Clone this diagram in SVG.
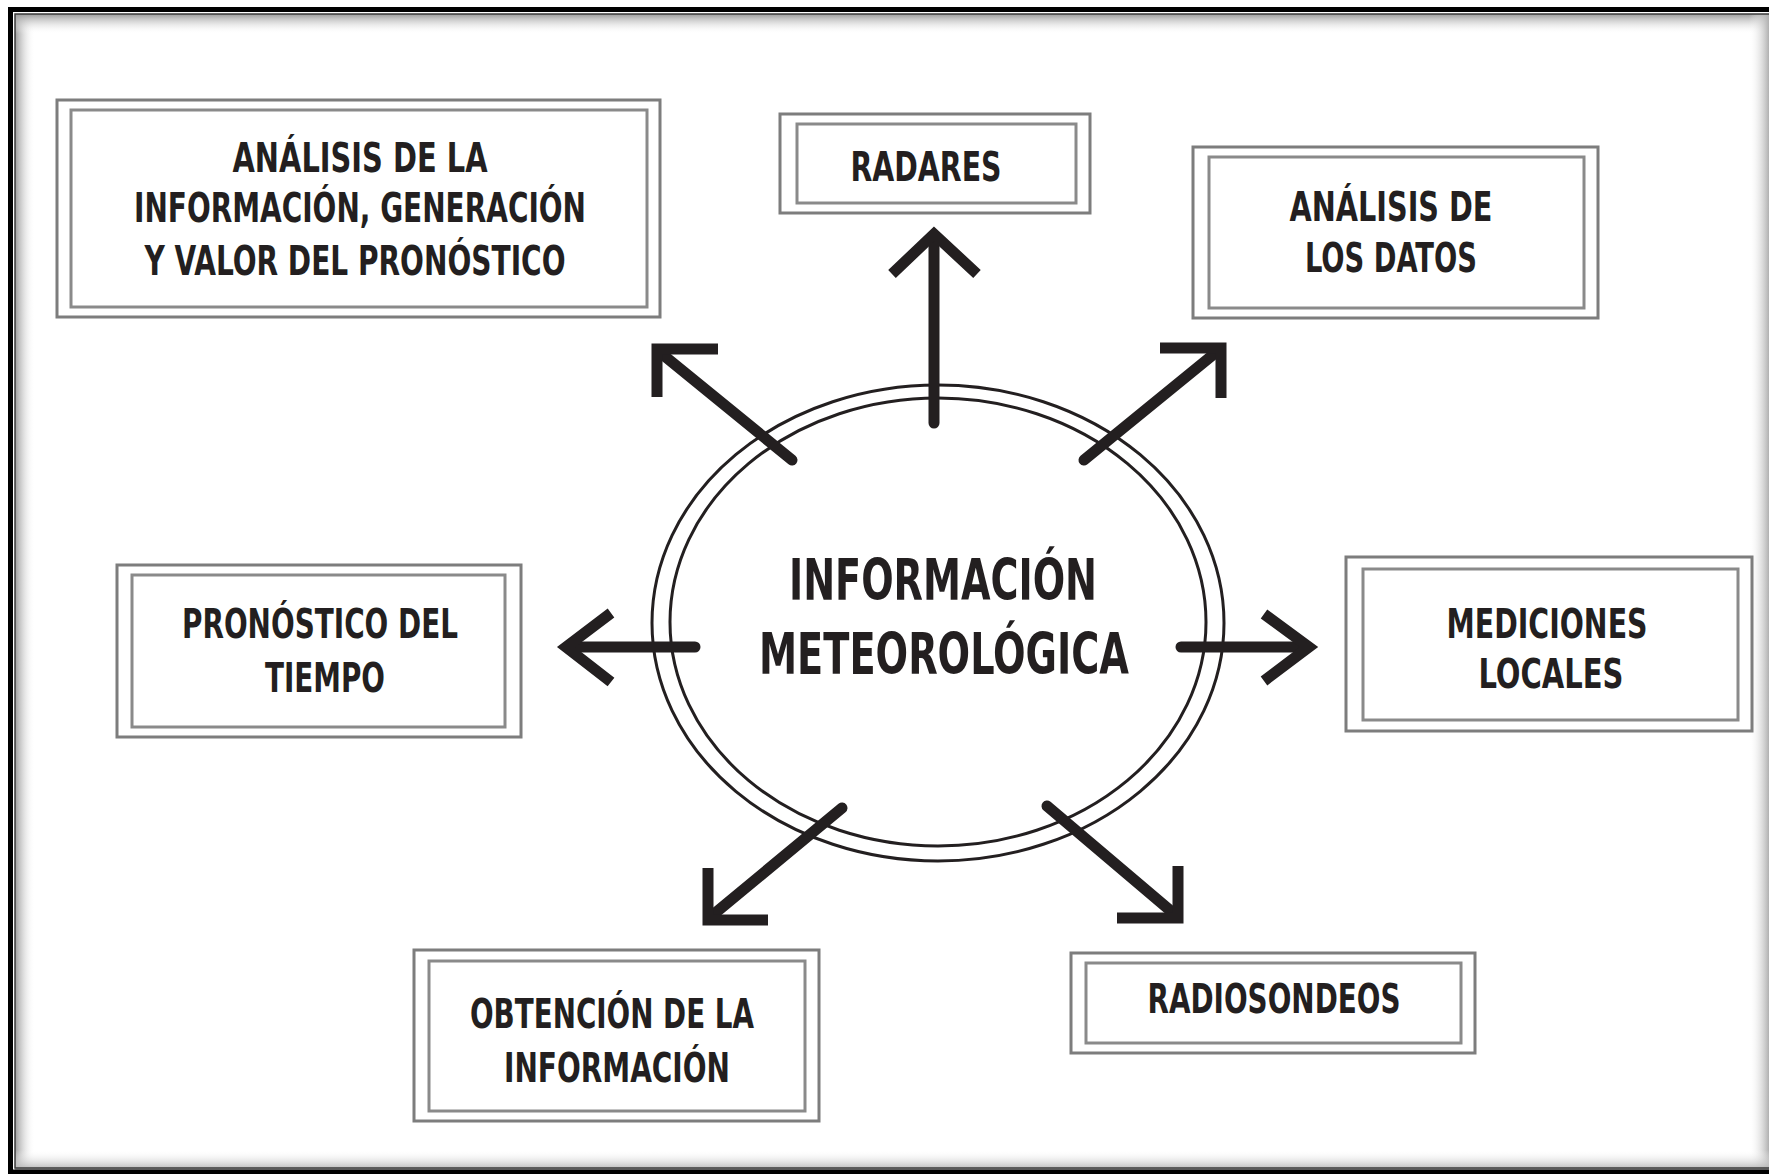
<svg xmlns="http://www.w3.org/2000/svg" width="1769" height="1174" viewBox="0 0 1769 1174">
<defs>
<linearGradient id="gl" x1="0" y1="0" x2="1" y2="0"><stop offset="0" stop-color="#9a9a9a"/><stop offset="1" stop-color="#ffffff" stop-opacity="0"/></linearGradient>
<linearGradient id="gt" x1="0" y1="0" x2="0" y2="1"><stop offset="0" stop-color="#9a9a9a"/><stop offset="1" stop-color="#ffffff" stop-opacity="0"/></linearGradient>
<linearGradient id="gr" x1="1" y1="0" x2="0" y2="0"><stop offset="0" stop-color="#b0b0b0"/><stop offset="1" stop-color="#ffffff" stop-opacity="0"/></linearGradient>
<linearGradient id="gb" x1="0" y1="1" x2="0" y2="0"><stop offset="0" stop-color="#b0b0b0"/><stop offset="1" stop-color="#ffffff" stop-opacity="0"/></linearGradient>
<style>
.box{fill:none;stroke:#7d7d7d;stroke-width:3}
.in{fill:none;stroke:#8a8a8a;stroke-width:3}
.t{font-family:"DejaVu Sans Condensed","DejaVu Sans","Liberation Sans",sans-serif;font-weight:bold;font-size:41px;fill:#231f20;text-anchor:middle}
.tc{font-size:57px}
.ell{fill:none;stroke:#231f20;stroke-width:3}
.ar{fill:none;stroke:#231f20;stroke-width:11;stroke-linecap:round}
.hd{fill:none;stroke:#231f20;stroke-width:11;stroke-linejoin:miter;stroke-miterlimit:10;stroke-linecap:butt}
</style>
</defs>
<rect width="1769" height="1174" fill="#ffffff"/>
<g id="frame">
<rect x="15" y="14" width="20" height="1156" fill="url(#gl)"/>
<rect x="15" y="14" width="1760" height="20" fill="url(#gt)"/>
<rect x="1749" y="14" width="20" height="1156" fill="url(#gr)"/>
<rect x="15" y="1150" width="1760" height="20" fill="url(#gb)"/>
<rect x="10.5" y="9.5" width="1800" height="1162.5" fill="none" stroke="#000" stroke-width="5"/>
<rect x="15" y="14" width="1800" height="1154" fill="none" stroke="#3a3a3a" stroke-width="1.5"/>
</g>
<g id="center">
<ellipse class="ell" cx="938" cy="623" rx="286" ry="238"/>
<ellipse class="ell" cx="938" cy="622" rx="268" ry="224"/>
<text class="t tc" x="943" y="600" textLength="308" lengthAdjust="spacingAndGlyphs">INFORMACIÓN</text>
<text class="t tc" x="944" y="674" textLength="370" lengthAdjust="spacingAndGlyphs">METEOROLÓGICA</text>
</g>
<g id="connectors">
<line class="ar" x1="934" y1="423" x2="934" y2="240"/>
<polyline class="hd" points="892,274 934,234 977,274"/>
<line class="ar" x1="792" y1="460" x2="662" y2="354"/>
<polyline class="hd" points="718,349 657,349 657,397"/>
<line class="ar" x1="1084" y1="460" x2="1214" y2="354"/>
<polyline class="hd" points="1160,348 1221,348 1221,398"/>
<line class="ar" x1="695" y1="647" x2="570" y2="647"/>
<polyline class="hd" points="611,613 566,647 611,682"/>
<line class="ar" x1="1181" y1="647" x2="1305" y2="647"/>
<polyline class="hd" points="1264,614 1309,647 1264,681"/>
<line class="ar" x1="842" y1="808" x2="714" y2="914"/>
<polyline class="hd" points="708,868 708,920 768,920"/>
<line class="ar" x1="1047" y1="806" x2="1172" y2="912"/>
<polyline class="hd" points="1117,918 1178,918 1178,866"/>
</g>
<g id="node-analisis-informacion">
<rect class="box" x="57" y="100" width="603" height="217"/>
<rect class="in" x="71" y="110" width="576" height="197"/>
<text class="t" x="360" y="172" textLength="255" lengthAdjust="spacingAndGlyphs">ANÁLISIS DE LA</text>
<text class="t" x="360" y="222" textLength="452" lengthAdjust="spacingAndGlyphs">INFORMACIÓN, GENERACIÓN</text>
<text class="t" x="355" y="275" textLength="421" lengthAdjust="spacingAndGlyphs">Y VALOR DEL PRONÓSTICO</text>
</g>
<g id="node-radares">
<rect class="box" x="780" y="114" width="310" height="99"/>
<rect class="in" x="797" y="124" width="279" height="79"/>
<text class="t" x="926" y="181" textLength="151" lengthAdjust="spacingAndGlyphs">RADARES</text>
</g>
<g id="node-analisis-datos">
<rect class="box" x="1193" y="147" width="405" height="171"/>
<rect class="in" x="1209" y="157" width="375" height="151"/>
<text class="t" x="1391" y="221" textLength="203" lengthAdjust="spacingAndGlyphs">ANÁLISIS DE</text>
<text class="t" x="1391" y="272" textLength="172" lengthAdjust="spacingAndGlyphs">LOS DATOS</text>
</g>
<g id="node-pronostico">
<rect class="box" x="117" y="565" width="404" height="172"/>
<rect class="in" x="132" y="575" width="373" height="152"/>
<text class="t" x="320" y="638" textLength="276" lengthAdjust="spacingAndGlyphs">PRONÓSTICO DEL</text>
<text class="t" x="325" y="692" textLength="120" lengthAdjust="spacingAndGlyphs">TIEMPO</text>
</g>
<g id="node-mediciones">
<rect class="box" x="1346" y="557" width="406" height="174"/>
<rect class="in" x="1363" y="569" width="375" height="151"/>
<text class="t" x="1547" y="638" textLength="201" lengthAdjust="spacingAndGlyphs">MEDICIONES</text>
<text class="t" x="1551" y="688" textLength="145" lengthAdjust="spacingAndGlyphs">LOCALES</text>
</g>
<g id="node-obtencion">
<rect class="box" x="414" y="950" width="405" height="171"/>
<rect class="in" x="429" y="961" width="376" height="150"/>
<text class="t" x="612" y="1028" textLength="284" lengthAdjust="spacingAndGlyphs">OBTENCIÓN DE LA</text>
<text class="t" x="617" y="1082" textLength="226" lengthAdjust="spacingAndGlyphs">INFORMACIÓN</text>
</g>
<g id="node-radiosondeos">
<rect class="box" x="1071" y="953" width="404" height="100"/>
<rect class="in" x="1086" y="963" width="375" height="80"/>
<text class="t" x="1274" y="1013" textLength="253" lengthAdjust="spacingAndGlyphs">RADIOSONDEOS</text>
</g>
</svg>
